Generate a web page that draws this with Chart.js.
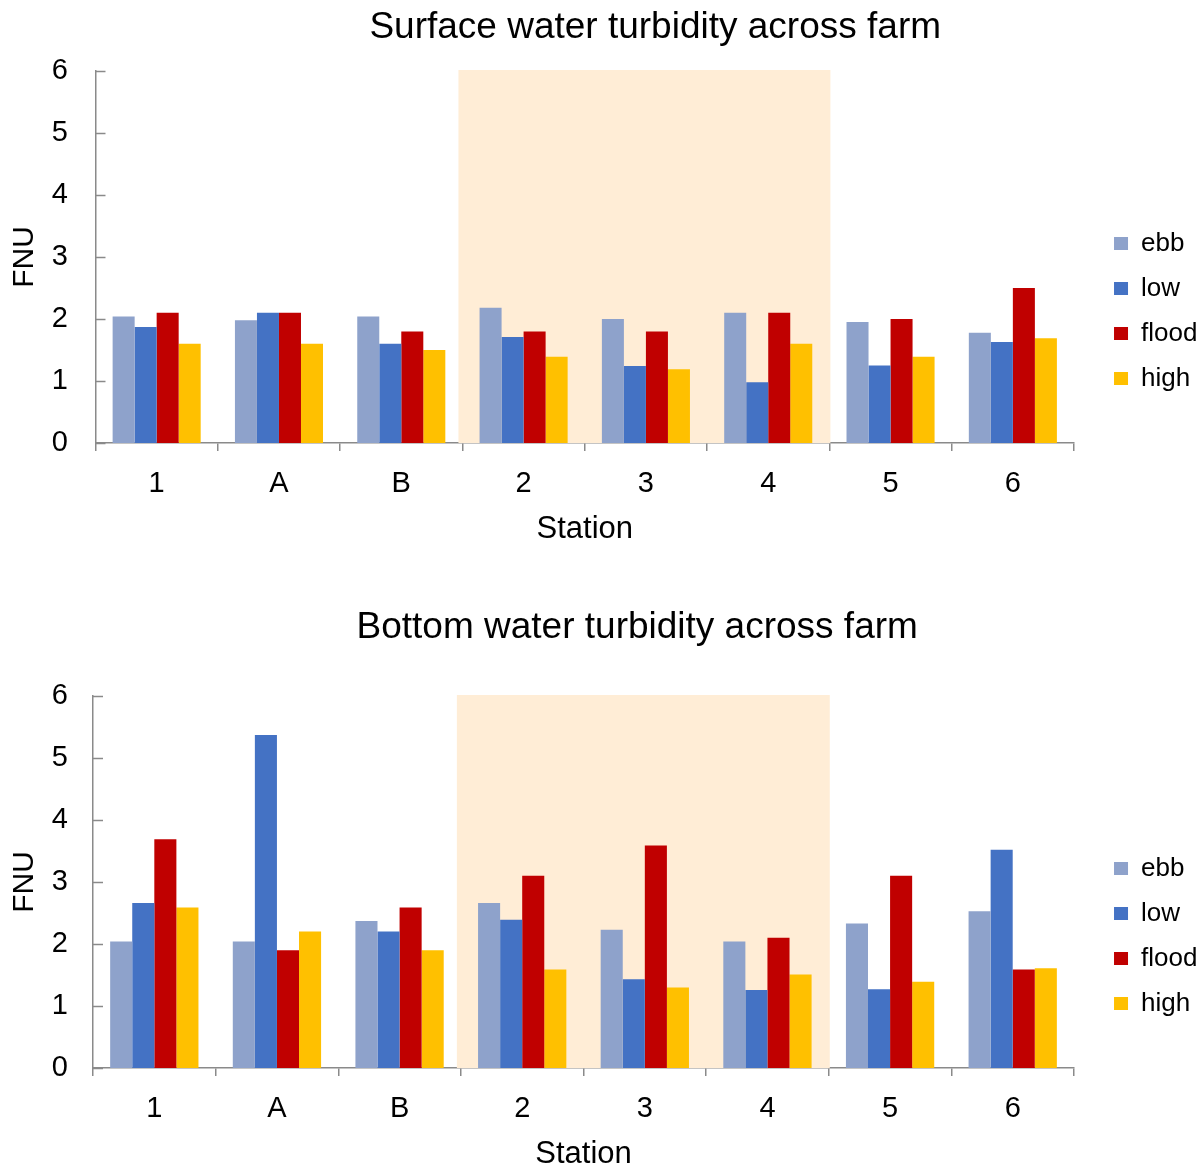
<!DOCTYPE html>
<html>
<head>
<meta charset="utf-8">
<title>Water turbidity across farm</title>
<script src="https://cdn.jsdelivr.net/npm/chart.js@4.4.1/dist/chart.umd.min.js"></script>
<style>
  body { margin: 0; background: #fff; }
  .box { position: absolute; left: 0; width: 1203px; height: 567px; }
  #topBox { top: 0; }
  #bottomBox { top: 600px; }
</style>
</head>
<body>
<div class="box" id="topBox"><canvas id="surfaceChart" width="1203" height="567"></canvas></div>
<div class="box" id="bottomBox"><canvas id="bottomChart" width="1203" height="567"></canvas></div>
<script>
// data
const stations = ['1', 'A', 'B', '2', '3', '4', '5', '6'];
const seriesNames = ['ebb', 'low', 'flood', 'high'];
const highlightStations = ['2', '3', '4'];
const yTicks = [0, 1, 2, 3, 4, 5, 6];

const surfaceEbb   = [2.04, 1.98, 2.04, 2.18, 2.00, 2.10, 1.95, 1.78];
const surfaceLow   = [1.87, 2.10, 1.60, 1.71, 1.24, 0.98, 1.25, 1.63];
const surfaceFlood = [2.10, 2.10, 1.80, 1.80, 1.80, 2.10, 2.00, 2.50];
const surfaceHigh  = [1.60, 1.60, 1.50, 1.39, 1.19, 1.60, 1.39, 1.69];

const bottomEbb   = [2.04, 2.04, 2.37, 2.66, 2.23, 2.04, 2.33, 2.53];
const bottomLow   = [2.66, 5.37, 2.20, 2.39, 1.43, 1.26, 1.27, 3.52];
const bottomFlood = [3.69, 1.90, 2.59, 3.10, 3.59, 2.10, 3.10, 1.59];
const bottomHigh  = [2.59, 2.20, 1.90, 1.59, 1.30, 1.51, 1.39, 1.61];

const colors = ['#8EA2CB', '#4472C4', '#C00000', '#FFC000'];
const axisGrey = '#8a8a8a';
const FONT = "'Liberation Sans', Arial, sans-serif";

// shaded band behind stations 2-4 + inward y tick marks
const farmBand = {
    id: 'farmBand',
    beforeDatasetsDraw(chart) {
        const xs = chart.scales.x;
        const area = chart.chartArea;
        const i0 = stations.indexOf(highlightStations[0]);
        const i1 = stations.indexOf(highlightStations[highlightStations.length - 1]);
        const half = (xs.getPixelForValue(1) - xs.getPixelForValue(0)) / 2;
        const left = xs.getPixelForValue(i0) - half - 4;
        const right = xs.getPixelForValue(i1) + half + 1;
        const ctx = chart.ctx;
        ctx.save();
        ctx.fillStyle = '#FFEDD6';
        ctx.fillRect(left, area.top - 1, right - left, area.bottom - area.top + 1);
        ctx.restore();
    },
    afterDraw(chart) {
        const ys = chart.scales.y;
        const ctx = chart.ctx;
        ctx.save();
        ctx.strokeStyle = axisGrey;
        ctx.lineWidth = 1.5;
        ys.ticks.forEach(t => {
            const y = Math.round(ys.getPixelForValue(t.value)) + 0.5;
            ctx.beginPath();
            ctx.moveTo(ys.right, y);
            ctx.lineTo(ys.right + 10, y);
            ctx.stroke();
        });
        ctx.restore();
    }
};

// nudge title and legend to where the original puts them
const nudge = {
    id: 'nudge',
    afterLayout(chart, args, o) {
        const tb = chart.titleBlock;
        tb.left += o.titleDx; tb.right += o.titleDx;
        const lg = chart.legend;
        lg.left += o.legendDx; lg.right += o.legendDx;
        lg.top += o.legendDy; lg.bottom += o.legendDy;
    }
};

function makeChart(canvasId, titleText, values, opt) {
    const ctx = document.getElementById(canvasId).getContext('2d');
    return new Chart(ctx, {
        type: 'bar',
        data: {
            labels: stations,
            datasets: seriesNames.map((name, i) => ({
                label: name,
                data: values[i],
                backgroundColor: colors[i],
                borderWidth: 0,
                categoryPercentage: 0.72,
                barPercentage: 1.0
            }))
        },
        plugins: [farmBand, nudge],
        options: {
            responsive: false,
            animation: false,
            layout: { padding: { left: 0, right: 16.6, top: 0, bottom: opt.padBottom } },
            plugins: {
                nudge: { titleDx: opt.titleDx, legendDx: 21, legendDy: opt.legendDy },
                title: {
                    display: true,
                    text: titleText,
                    color: '#000',
                    font: { family: FONT, size: 37, weight: 'normal', lineHeight: 1 },
                    padding: { top: 9, bottom: opt.titleGap }
                },
                legend: {
                    position: 'right',
                    labels: {
                        color: '#000',
                        font: { family: FONT, size: 26, lineHeight: 1 },
                        boxWidth: 14,
                        boxHeight: 13,
                        padding: 19
                    }
                },
                tooltip: { enabled: false }
            },
            scales: {
                x: {
                    afterFit: s => { s.height = 102; },
                    grid: {
                        display: true,
                        drawOnChartArea: false,
                        drawTicks: true,
                        tickLength: 8,
                        color: axisGrey,
                        lineWidth: 1.5,
                        offset: true
                    },
                    border: { color: axisGrey, width: 1.5 },
                    ticks: {
                        color: '#000',
                        padding: 18,
                        font: { family: FONT, size: 29, lineHeight: 1 }
                    },
                    title: {
                        display: true,
                        text: 'Station',
                        color: '#000',
                        font: { family: FONT, size: 31, lineHeight: 1 },
                        padding: { top: 0, bottom: 0 }
                    }
                },
                y: {
                    min: yTicks[0],
                    max: yTicks[yTicks.length - 1],
                    afterBuildTicks: s => { s.ticks = yTicks.map(v => ({ value: v })); },
                    afterFit: s => { s.width = opt.yAxisWidth; },
                    grid: { display: false, drawTicks: false },
                    border: { color: axisGrey, width: 1.5 },
                    ticks: {
                        color: '#000',
                        padding: opt.yAxisWidth - 68,
                        font: { family: FONT, size: 29, lineHeight: 1 }
                    },
                    title: {
                        display: true,
                        text: 'FNU',
                        color: '#000',
                        font: { family: FONT, size: 30, lineHeight: 1 },
                        padding: { top: 10, bottom: 0 }
                    }
                }
            }
        }
    });
}

makeChart('surfaceChart', 'Surface water turbidity across farm',
    [surfaceEbb, surfaceLow, surfaceFlood, surfaceHigh],
    { padBottom: 22, titleGap: 25, titleDx: 62, legendDy: 38.5, yAxisWidth: 95.5 });

makeChart('bottomChart', 'Bottom water turbidity across farm',
    [bottomEbb, bottomLow, bottomFlood, bottomHigh],
    { padBottom: -3, titleGap: 50, titleDx: 44, legendDy: 51, yAxisWidth: 93 });
</script>
</body>
</html>
